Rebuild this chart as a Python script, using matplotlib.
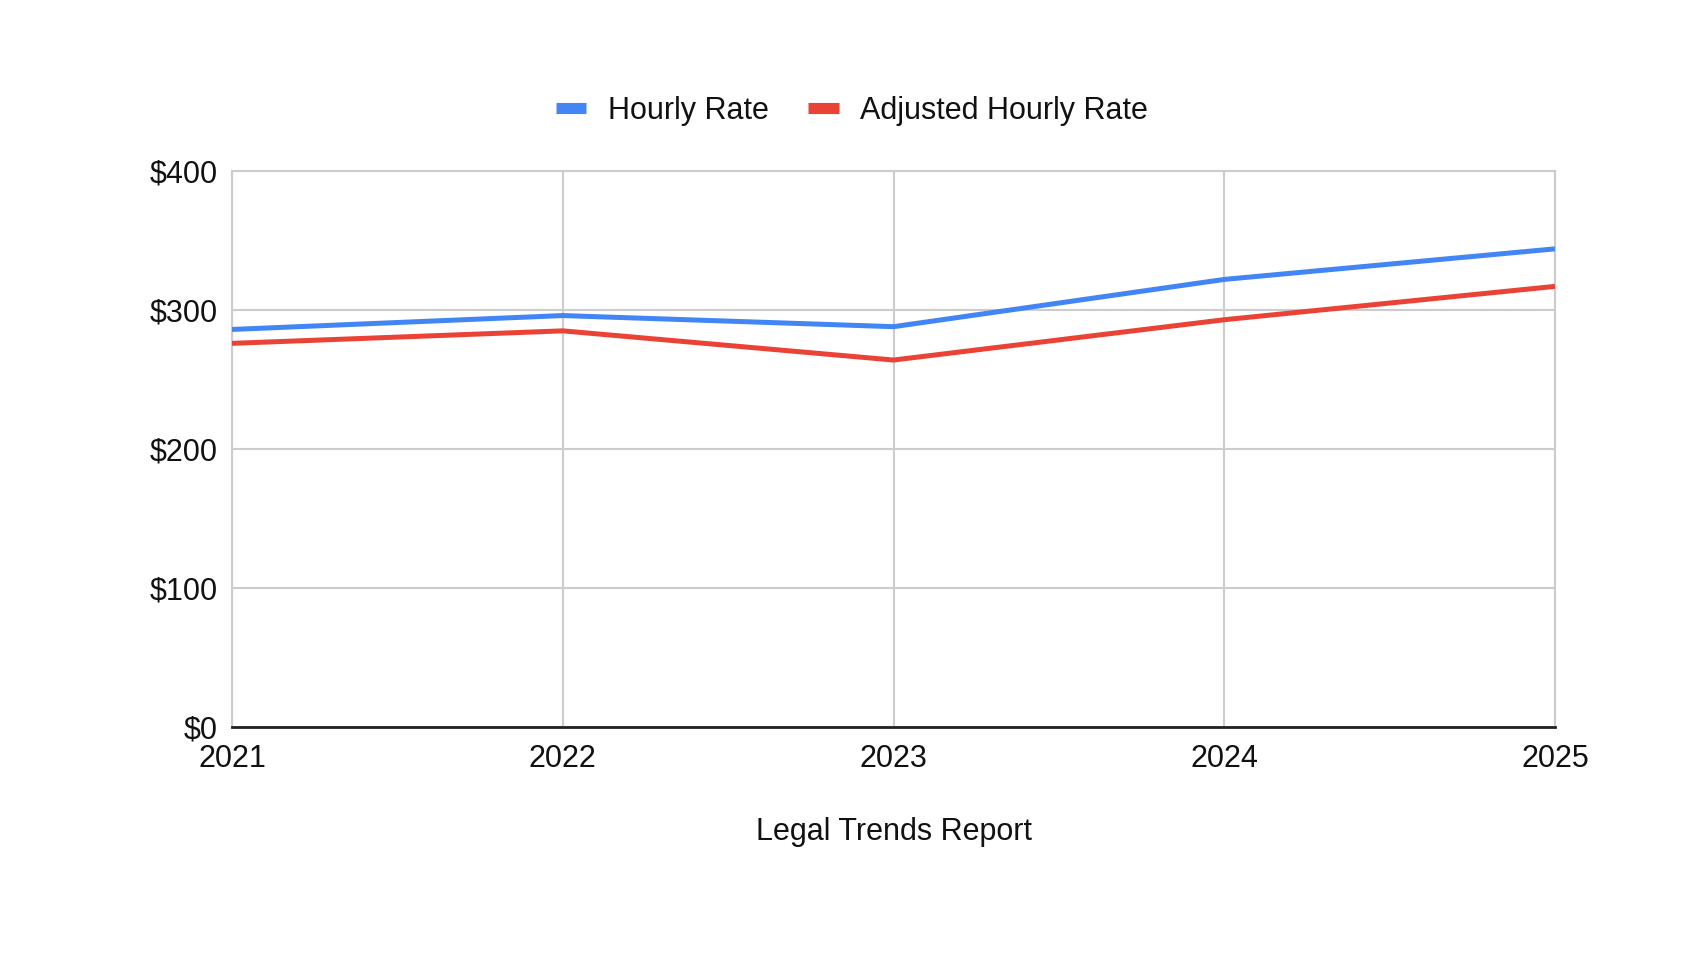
import matplotlib.pyplot as plt
from matplotlib.lines import Line2D

# Data
years = ["2021", "2022", "2023", "2024", "2025"]
hourly_rate = [286, 296, 288, 322, 344]
adjusted_rate = [276, 285, 264, 293, 317]
y_ticks = [0, 100, 200, 300, 400]

COLORS = {
    "Hourly": "#4285F4",
    "Adjusted": "#EA4335",
    "Grid": "#CCCCCC",
}

plt.rcParams["font.family"] = ["Liberation Sans", "DejaVu Sans"]

fig = plt.figure(figsize=(17.06, 9.6), dpi=100)
ax = fig.add_axes([232 / 1706, 1 - 727 / 960, (1555 - 232) / 1706, (727 - 171) / 960])

x = list(range(len(years)))
ax.plot(x, hourly_rate, color=COLORS["Hourly"], lw=3.6, solid_capstyle="butt", zorder=3)
ax.plot(x, adjusted_rate, color=COLORS["Adjusted"], lw=3.6, solid_capstyle="butt", zorder=3)

ax.set_xlim(0, len(years) - 1)
ax.set_ylim(0, 400)
ax.set_xticks(x)
ax.set_xticklabels(years)
ax.set_yticks(y_ticks)
ax.set_yticklabels([f"${v}" for v in y_ticks])
ax.tick_params(axis="both", length=0, labelsize=22, colors="#111111")
ax.tick_params(axis="x", pad=12)
ax.tick_params(axis="y", pad=10)

ax.grid(True, color=COLORS["Grid"], linewidth=1.5)
ax.set_axisbelow(True)
for side in ["top", "right", "left"]:
    ax.spines[side].set_color(COLORS["Grid"])
    ax.spines[side].set_linewidth(1.5)
ax.spines["bottom"].set_color("#222222")
ax.spines["bottom"].set_linewidth(2)
ax.spines["bottom"].set_zorder(4)

ax.set_xlabel("Legal Trends Report", fontsize=22, labelpad=31, color="#111111")

handles = [
    Line2D([], [], color=COLORS["Hourly"], lw=8, solid_capstyle="butt"),
    Line2D([], [], color=COLORS["Adjusted"], lw=8, solid_capstyle="butt"),
]
fig.legend(handles, ["Hourly Rate", "Adjusted Hourly Rate"], loc="center",
           bbox_to_anchor=(852 / 1706, 1 - 111 / 960), ncol=2, frameon=False,
           fontsize=22, handlelength=1.0, handletextpad=0.7, columnspacing=1.3,
           labelcolor="#111111")

fig.savefig("out.png", dpi=100, facecolor="white")
